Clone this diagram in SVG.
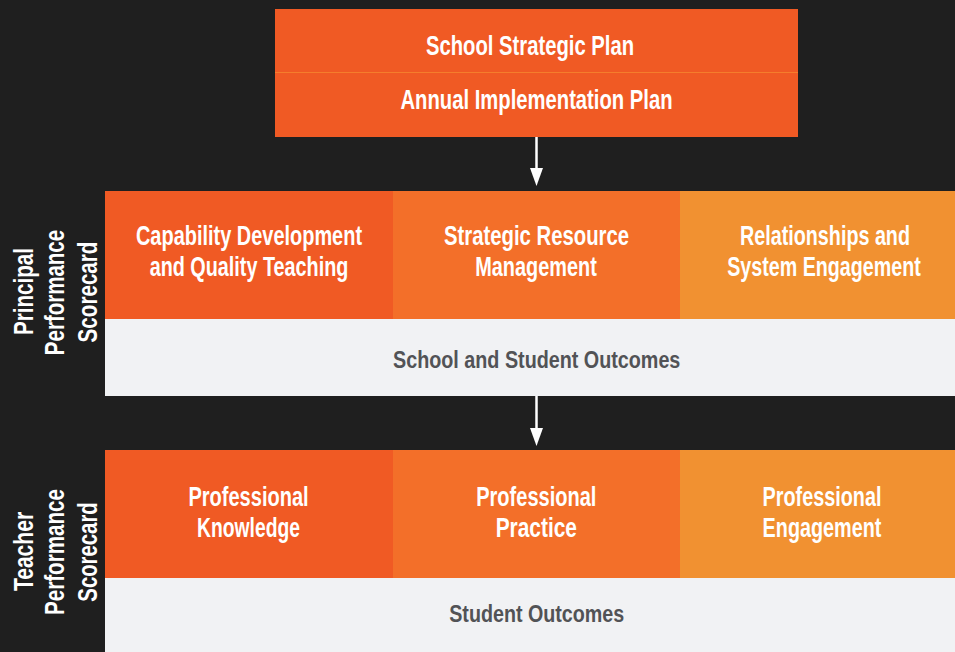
<svg xmlns="http://www.w3.org/2000/svg" width="955" height="652" viewBox="0 0 955 652">
  <defs>
    <marker id="arrow" markerUnits="userSpaceOnUse" markerWidth="18" markerHeight="13" viewBox="0 0 18 13" refX="8" refY="6.5" orient="auto">
      <path d="M0,0 L18,6.5 L0,13 z" fill="#ffffff"/>
    </marker>
    <style>
      .t { font-family: "Liberation Sans", "DejaVu Sans", Arial, sans-serif; font-weight: bold; text-anchor: middle; }
      .w { fill: #ffffff; font-size: 27px; }
      .g { fill: #525356; font-size: 24.5px; }
      .side { fill: #ffffff; font-size: 28px; }
      .c1 { fill: #f05a24; }
      .c2 { fill: #f36f29; }
      .c3 { fill: #f19131; }
      .gray { fill: #f1f2f4; }
      .conn { stroke: #ffffff; stroke-width: 2.5; fill: none; }
    </style>
  </defs>
  <rect x="0" y="0" width="955" height="652" fill="#1f1f1f"/>

  <g id="plan">
    <rect x="275" y="9" width="523" height="128" class="c1"/>
    <line x1="275" y1="72.5" x2="798" y2="72.5" stroke="#f57d2c" stroke-width="1.2"/>
    <text class="t w" transform="translate(530,55) scale(0.72,1)" font-size="27.5" textLength="289" lengthAdjust="spacingAndGlyphs">School Strategic Plan</text>
    <text class="t w" transform="translate(536.5,108.5) scale(0.72,1)" font-size="27.5" textLength="378" lengthAdjust="spacingAndGlyphs">Annual Implementation Plan</text>
  </g>

  <g id="principal-label">
    <text class="t side" transform="translate(32.5,291.5) rotate(-90) scale(0.72,1)" textLength="121" lengthAdjust="spacingAndGlyphs">Principal</text>
    <text class="t side" transform="translate(63.5,292.5) rotate(-90) scale(0.72,1)" textLength="174" lengthAdjust="spacingAndGlyphs">Performance</text>
    <text class="t side" transform="translate(96.5,292) rotate(-90) scale(0.72,1)" textLength="140" lengthAdjust="spacingAndGlyphs">Scorecard</text>
  </g>

  <g id="capability">
    <rect x="105" y="191" width="288" height="128" class="c1"/>
    <text class="t w" transform="translate(249,244.5) scale(0.72,1)" textLength="314" lengthAdjust="spacingAndGlyphs">Capability Development</text>
    <text class="t w" transform="translate(249,276) scale(0.72,1)" textLength="276" lengthAdjust="spacingAndGlyphs">and Quality Teaching</text>
  </g>
  <g id="resource">
    <rect x="393" y="191" width="287" height="128" class="c2"/>
    <text class="t w" transform="translate(536.5,244.5) scale(0.72,1)" textLength="257" lengthAdjust="spacingAndGlyphs">Strategic Resource</text>
    <text class="t w" transform="translate(536,276) scale(0.72,1)" textLength="169" lengthAdjust="spacingAndGlyphs">Management</text>
  </g>
  <g id="relationships">
    <rect x="680" y="191" width="275" height="128" class="c3"/>
    <text class="t w" transform="translate(825,244.5) scale(0.72,1)" textLength="236" lengthAdjust="spacingAndGlyphs">Relationships and</text>
    <text class="t w" transform="translate(824,276) scale(0.72,1)" textLength="269" lengthAdjust="spacingAndGlyphs">System Engagement</text>
  </g>
  <g id="school-outcomes">
    <rect x="105" y="319" width="850" height="77" class="gray"/>
    <text class="t g" transform="translate(536.7,367.7) scale(0.72,1)" textLength="399" lengthAdjust="spacingAndGlyphs">School and Student Outcomes</text>
  </g>

  <g id="teacher-label">
    <text class="t side" transform="translate(32.5,551.5) rotate(-90) scale(0.72,1)" textLength="110" lengthAdjust="spacingAndGlyphs">Teacher</text>
    <text class="t side" transform="translate(63.5,552) rotate(-90) scale(0.72,1)" textLength="175" lengthAdjust="spacingAndGlyphs">Performance</text>
    <text class="t side" transform="translate(96.5,552) rotate(-90) scale(0.72,1)" textLength="138" lengthAdjust="spacingAndGlyphs">Scorecard</text>
  </g>

  <g id="knowledge">
    <rect x="105" y="450" width="288" height="128" class="c1"/>
    <text class="t w" transform="translate(248.5,506) scale(0.72,1)" textLength="167" lengthAdjust="spacingAndGlyphs">Professional</text>
    <text class="t w" transform="translate(248.5,536.7) scale(0.72,1)" textLength="143" lengthAdjust="spacingAndGlyphs">Knowledge</text>
  </g>
  <g id="practice">
    <rect x="393" y="450" width="287" height="128" class="c2"/>
    <text class="t w" transform="translate(536.3,506) scale(0.72,1)" textLength="167" lengthAdjust="spacingAndGlyphs">Professional</text>
    <text class="t w" transform="translate(536.3,536.7) scale(0.72,1)" textLength="113" lengthAdjust="spacingAndGlyphs">Practice</text>
  </g>
  <g id="engagement">
    <rect x="680" y="450" width="275" height="128" class="c3"/>
    <text class="t w" transform="translate(822,506) scale(0.72,1)" textLength="165" lengthAdjust="spacingAndGlyphs">Professional</text>
    <text class="t w" transform="translate(822,536.7) scale(0.72,1)" textLength="165" lengthAdjust="spacingAndGlyphs">Engagement</text>
  </g>
  <g id="student-outcomes">
    <rect x="105" y="578" width="850" height="74" class="gray"/>
    <text class="t g" transform="translate(536.7,621.7) scale(0.72,1)" textLength="243" lengthAdjust="spacingAndGlyphs">Student Outcomes</text>
  </g>

  <g id="connectors">
    <line class="conn" x1="536.5" y1="137" x2="536.5" y2="176" marker-end="url(#arrow)"/>
    <line class="conn" x1="536.5" y1="396" x2="536.5" y2="436" marker-end="url(#arrow)"/>
  </g>
</svg>
